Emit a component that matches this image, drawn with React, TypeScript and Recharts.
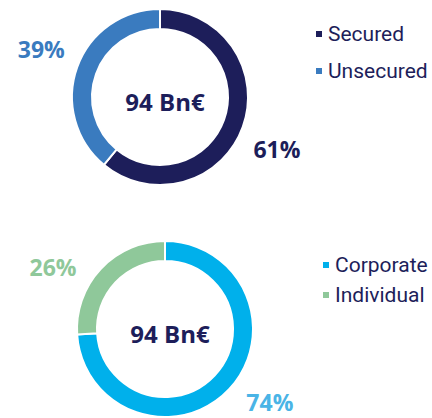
import { Cell, Label, Pie, PieChart } from "recharts";

const securedNames = ["Secured", "Unsecured"];
const securedValues = [61, 39];
const clientNames = ["Corporate", "Individual"];
const clientValues = [74, 26];
const totalLabel = "94 Bn€";

const NAVY = "#1d1e5a";
const FONT = "Roboto, 'Open Sans', sans-serif";

interface DonutProps {
  names: string[];
  values: number[];
  colors: string[];
  labelColors: string[];
  labelAngles: number[];
  width: number;
  height: number;
  cx: number;
  cy: number;
  legendTop: number;
  legendLeft: number;
  legendGap: number;
}

function Donut({
  names,
  values,
  colors,
  labelColors,
  labelAngles,
  width,
  height,
  cx,
  cy,
  legendTop,
  legendLeft,
  legendGap,
}: DonutProps) {
  const data = names.map((name, i) => ({ name, value: values[i] }));

  const renderLabel = (props: any) => {
    const { index, cx: px, cy: py, value } = props;
    const a = (labelAngles[index] * Math.PI) / 180;
    const r = 128;
    const x = px + r * Math.cos(a);
    const y = py - r * Math.sin(a);
    return (
      <text
        x={x}
        y={y}
        textAnchor="middle"
        dominantBaseline="central"
        fill={labelColors[index]}
        style={{ fontFamily: "'Open Sans', sans-serif", fontWeight: 700, fontSize: 23 }}
      >
        {value}%
      </text>
    );
  };

  return (
    <div style={{ position: "relative", width, height }}>
      <PieChart width={width} height={height} margin={{ top: 0, right: 0, bottom: 0, left: 0 }}>
        <Pie
          data={data}
          dataKey="value"
          nameKey="name"
          cx={cx}
          cy={cy}
          innerRadius={68}
          outerRadius={88}
          startAngle={90}
          endAngle={-270}
          stroke="#ffffff"
          strokeWidth={2}
          label={renderLabel}
          labelLine={false}
          isAnimationActive={false}
        >
          {data.map((d, i) => (
            <Cell key={d.name} fill={colors[i]} />
          ))}
          <Label
            position="center"
            content={() => (
              <text
                x={cx + 5}
                y={cy + 4}
                textAnchor="middle"
                dominantBaseline="central"
                fill={NAVY}
                style={{ fontFamily: "'Open Sans', sans-serif", fontWeight: 700, fontSize: 24 }}
              >
                {totalLabel}
              </text>
            )}
          />
        </Pie>
      </PieChart>
      <div style={{ position: "absolute", top: legendTop, left: legendLeft }}>
        {names.map((name, i) => (
          <div
            key={name}
            style={{
              display: "flex",
              alignItems: "center",
              height: legendGap,
              fontFamily: FONT,
              fontSize: 21,
              color: NAVY,
              whiteSpace: "nowrap",
            }}
          >
            <span
              style={{
                display: "inline-block",
                width: 6,
                height: 6,
                background: colors[i],
                marginRight: 6,
              }}
            />
            {name}
          </div>
        ))}
      </div>
    </div>
  );
}

export default function App() {
  return (
    <div style={{ position: "absolute", left: 0, top: 0, width: 432, height: 418, background: "#fff", overflow: "hidden" }}>
      <Donut
        names={securedNames}
        values={securedValues}
        colors={[NAVY, "#3a7bbf"]}
        labelColors={[NAVY, "#3a7bbf"]}
        labelAngles={[-24, 158]}
        width={432}
        height={210}
        cx={160}
        cy={97}
        legendTop={15}
        legendLeft={316}
        legendGap={37}
      />
      <div style={{ position: "absolute", top: 210, left: 0 }}>
        <Donut
          names={clientNames}
          values={clientValues}
          colors={["#00b0eb", "#8fc89a"]}
          labelColors={["#4ab4e6", "#8fc89a"]}
          labelAngles={[-35, 151]}
          width={432}
          height={208}
          cx={165}
          cy={119}
          legendTop={40}
          legendLeft={323}
          legendGap={30}
        />
      </div>
    </div>
  );
}
